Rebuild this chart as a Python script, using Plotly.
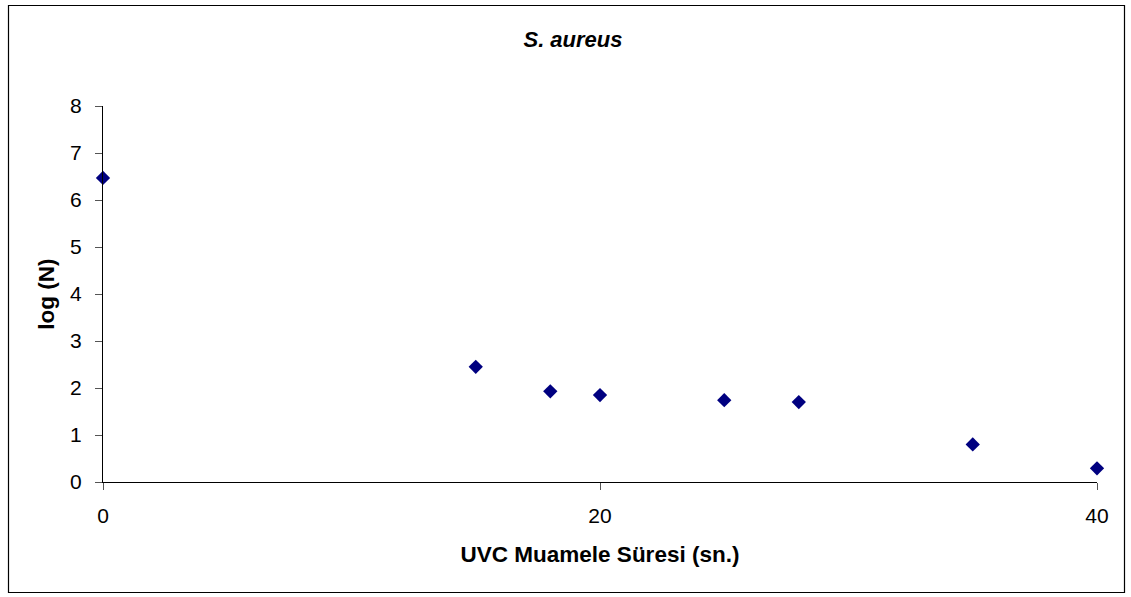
import plotly.graph_objects as go

# UV-C exposure time (s) and log surviving count
uvc_time = [0, 15, 18, 20, 25, 28, 35, 40]
log_n = [6.47, 2.45, 1.93, 1.85, 1.74, 1.70, 0.80, 0.29]

x_ticks = [0, 20, 40]
y_ticks = [0, 1, 2, 3, 4, 5, 6, 7, 8]

W, H = 1131, 597
ML, MR, MT, MB = 103, 34, 106, 115
pw, ph = W - ML - MR, H - MT - MB


def px_to_paper_x(px):
    return (px - ML) / pw


def px_to_paper_y(py):
    return (H - MB - py) / ph


fig = go.Figure()
fig.add_trace(go.Scatter(
    x=uvc_time, y=log_n, mode="markers",
    marker=dict(symbol="diamond", size=11, color="#000080"),
    cliponaxis=False, showlegend=False,
))

font = "Liberation Sans, Arial, sans-serif"
fig.update_layout(
    width=W, height=H,
    margin=dict(l=ML, r=MR, t=MT, b=MB),
    paper_bgcolor="white", plot_bgcolor="white",
    font=dict(family=font, color="black"),
    title=dict(text="<b><i>S. aureus</i></b>", x=px_to_paper_x(573), xref="paper",
               xanchor="center", y=1 - 39 / H, yanchor="middle",
               font=dict(size=22, family=font)),
    xaxis=dict(range=[0, 40], tickvals=x_ticks, showgrid=False, zeroline=False,
               showline=True, linecolor="black", linewidth=1,
               ticks="outside", ticklen=7, tickcolor="#555",
               tickfont=dict(size=21), ticklabelstandoff=8,
               title=dict(text="<b>UVC Muamele Süresi (sn.)</b>",
                          font=dict(size=22.5), standoff=20)),
    yaxis=dict(range=[0, 8], tickvals=y_ticks, showgrid=False, zeroline=False,
               showline=True, linecolor="black", linewidth=1,
               ticks="outside", ticklen=7, tickcolor="#555",
               tickfont=dict(size=21), ticklabelstandoff=9,
               title=dict(text="<b>log (N)</b>", font=dict(size=22.5), standoff=9)),
)

# outer chart frame
fig.add_shape(type="rect", xref="paper", yref="paper",
              x0=px_to_paper_x(8.5), x1=px_to_paper_x(1124.5),
              y0=px_to_paper_y(592.5), y1=px_to_paper_y(5.5),
              line=dict(color="black", width=1.2), layer="below")

fig.write_html("out.html")
